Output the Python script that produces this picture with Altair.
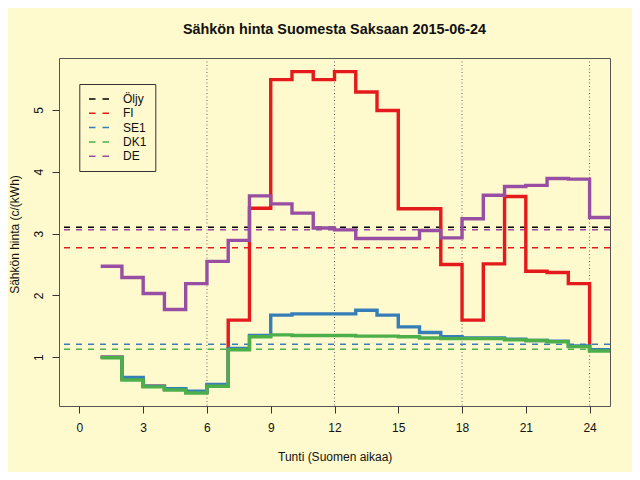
import altair as alt
import pandas as pd

# ---- data ----
hours = list(range(1, 25))
series_names = ["Öljy", "FI", "SE1", "DK1", "DE"]
series_colors = ["#000000", "#E41A1C", "#377EB8", "#4DAF4A", "#984EA3"]

fi = [1.00, 0.65, 0.53, 0.48, 0.43, 0.54, 1.60, 3.41, 5.49, 5.62, 5.49, 5.62,
      5.29, 4.99, 3.40, 3.40, 2.50, 1.60, 2.51, 3.60, 2.39, 2.37, 2.19, 1.12]
se1 = [1.00, 0.67, 0.53, 0.49, 0.45, 0.56, 1.14, 1.35, 1.68, 1.70, 1.70, 1.70,
       1.76, 1.68, 1.49, 1.40, 1.33, 1.31, 1.31, 1.29, 1.27, 1.26, 1.18, 1.12]
dk1 = [0.99, 0.63, 0.52, 0.47, 0.42, 0.53, 1.12, 1.33, 1.36, 1.35, 1.35, 1.35,
       1.34, 1.34, 1.33, 1.31, 1.30, 1.30, 1.30, 1.28, 1.27, 1.25, 1.17, 1.10]
de = [2.47, 2.29, 2.03, 1.77, 2.19, 2.55, 2.89, 3.61, 3.48, 3.33, 3.09, 3.06,
      2.92, 2.92, 2.92, 3.05, 2.93, 3.24, 3.62, 3.76, 3.78, 3.89, 3.88, 3.26]

# daily averages (horizontal dashed lines)
avg_names = ["Öljy", "FI", "SE1", "DK1", "DE"]
avg_values = [3.10, 2.77, 1.21, 1.13, 3.06]

vlines = [6, 12, 18, 24]
x_ticks = [0, 3, 6, 9, 12, 15, 18, 21, 24]
y_ticks = [1, 2, 3, 4, 5]

# ---- tables ----
rows = []
for name, vals in [("FI", fi), ("SE1", se1), ("DK1", dk1), ("DE", de)]:
    for h, v in zip(hours, vals):
        rows.append({"series": name, "hour": h, "price": v})
    rows.append({"series": name, "hour": hours[-1] + 1, "price": vals[-1]})
steps = pd.DataFrame(rows)
avgs = pd.DataFrame({"series": avg_names, "price": avg_values})
vdf = pd.DataFrame({"hour": vlines})

FONT = "Liberation Sans"
W, H = 551, 348

xscale = alt.Scale(domain=[-0.96, 24.96], nice=False, zero=False)
yscale = alt.Scale(domain=[0.21, 5.84], nice=False, zero=False)
cscale = alt.Scale(domain=series_names, range=series_colors)

legend = alt.Legend(
    title=None, orient="none", legendX=20.3, legendY=26,
    symbolType="M-1.6,0H1.6", symbolSize=156, symbolStrokeWidth=1.5,
    symbolDash=[6.5, 7], symbolOffset=4.7, labelOffset=17,
    rowPadding=1.3, padding=8, strokeColor="#333",
    labelFont=FONT, labelFontSize=12, labelColor="#111", labelLimit=200,
)

xaxis = alt.Axis(
    values=x_ticks, title="Tunti (Suomen aikaa)", grid=False, domain=False,
    tickSize=7, tickColor="#333", labelPadding=9.5, labelFont=FONT,
    labelFontSize=12, labelColor="#111", titleFont=FONT, titleFontSize=12,
    titleFontWeight="normal", titleColor="#111", titleBaseline="alphabetic",
    titleX=275.7, titleY=54.7, titleAnchor="middle",
)
yaxis = alt.Axis(
    values=y_ticks, title="Sähkön hinta (c/(kWh)", grid=False, domain=False,
    tickSize=7, tickColor="#333", labelAngle=270, labelAlign="center",
    labelBaseline="alphabetic", labelPadding=9.3, labelFont=FONT,
    labelFontSize=12, labelColor="#111", titleFont=FONT, titleFontSize=12,
    titleFontWeight="normal", titleColor="#111", titleAngle=270,
    titleBaseline="alphabetic", titleAlign="center", titleX=-40.5, titleY=176,
)

vrules = alt.Chart(vdf).mark_rule(color="#666", strokeWidth=1, strokeDash=[1, 2.5]).encode(
    x=alt.X("hour:Q", scale=xscale, axis=xaxis)
)

hrules = alt.Chart(avgs).mark_rule(strokeWidth=1.5, strokeDash=[6, 6]).encode(
    y=alt.Y("price:Q", scale=yscale, axis=yaxis),
    color=alt.Color("series:N", scale=cscale, legend=legend),
)

layers = [vrules, hrules]
for name in ["FI", "SE1", "DK1", "DE"]:
    layers.append(
        alt.Chart(steps).transform_filter(alt.datum.series == name)
        .mark_line(interpolate="step-after", strokeWidth=3.4, clip=True)
        .encode(
            x=alt.X("hour:Q", scale=xscale, axis=xaxis),
            y=alt.Y("price:Q", scale=yscale, axis=yaxis),
            color=alt.Color("series:N", scale=cscale, legend=legend),
            order="hour:Q",
        )
    )

chart = alt.layer(*layers).properties(
    width=W, height=H,
    title=alt.Title(
        "Sähkön hinta Suomesta Saksaan 2015-06-24", font=FONT, fontSize=14.4,
        fontWeight="bold", color="#111", anchor="middle", baseline="alphabetic",
        offset=9.5,
    ),
    autosize=alt.AutoSizeParams(type="none"),
    padding={"left": 51, "top": 50, "right": 22, "bottom": 66},
    background="#FFFACD",
).configure_view(stroke="#555", strokeWidth=1)

chart.save("out.html", embed_options={"renderer": "svg", "actions": False})
